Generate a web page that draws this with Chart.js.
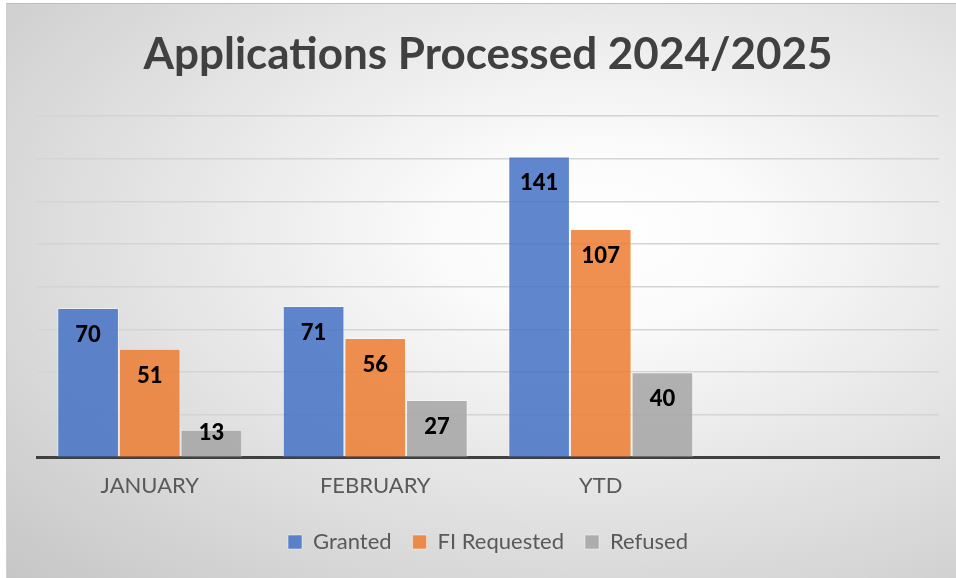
<!DOCTYPE html>
<html>
<head>
<meta charset="utf-8">
<script src="https://cdn.jsdelivr.net/npm/chart.js@4"></script>
<style>
	html, body { margin: 0; padding: 0; background: #ffffff; }
	#frame {
		position: absolute;
		left: 6px;
		top: 3px;
		width: 950px;
		height: 575px;
		border-top: 1px solid #bdbdbd;
		border-left: 1px solid #cfcfcf;
		background: radial-gradient(ellipse farthest-corner at 62% 40%, #ffffff 0%, #fbfbfb 18%, #c6c6c6 100%);
	}
	#chart { display: block; }
</style>
</head>
<body>
<div id="frame"><canvas id="chart" width="950" height="575"></canvas></div>
<script>
// -------------------- data -------------------- //
const categories = ['JANUARY', 'FEBRUARY', 'YTD', ''];
const granted = [70, 71, 141, null];
const fiRequested = [51, 56, 107, null];
const refused = [13, 27, 40, null];
const yTicks = [0, 20, 40, 60, 80, 100, 120, 140, 160];

const FONT = 'Lato, "Open Sans", sans-serif';

// value labels sit inside the bar end, like Excel's "inside end"
const insideEndLabels = {
	id: 'insideEndLabels',
	afterDatasetsDraw(chart) {
		const ctx = chart.ctx;
		ctx.save();
		ctx.font = `900 22px ${FONT}`;
		ctx.fillStyle = '#000000';
		ctx.textAlign = 'center';
		ctx.textBaseline = 'middle';
		chart.data.datasets.forEach((ds, i) => {
			const meta = chart.getDatasetMeta(i);
			meta.data.forEach((bar, j) => {
				const v = ds.data[j];
				if (v == null) return;
				const y = Math.min(bar.y + 27, bar.base - 24);
				ctx.fillText(String(v), bar.x, y);
			});
		});
		ctx.restore();
	},
};

const ctx = /** @type {HTMLCanvasElement} */ (document.getElementById('chart'));
new Chart(ctx, {
	type: 'bar',
	data: {
		labels: categories,
		datasets: [
			{
				label: 'Granted',
				data: granted,
				backgroundColor: 'rgba(68, 114, 196, 0.85)',
				borderColor: 'rgba(255, 255, 255, 0.45)',
				borderWidth: 1,
			},
			{
				label: 'FI Requested',
				data: fiRequested,
				backgroundColor: 'rgba(237, 125, 49, 0.85)',
				borderColor: 'rgba(255, 255, 255, 0.45)',
				borderWidth: 1,
			},
			{
				label: 'Refused',
				data: refused,
				backgroundColor: 'rgba(165, 165, 165, 0.85)',
				borderColor: 'rgba(255, 255, 255, 0.45)',
				borderWidth: 1,
			},
		],
	},
	options: {
		responsive: false,
		devicePixelRatio: 1,
		animation: false,
		categoryPercentage: 0.82,
		barPercentage: 1,
		layout: {
			padding: { left: 30, right: 18, top: 0, bottom: 16 },
		},
		scales: {
			x: {
				grid: { display: false, drawTicks: false },
				border: { display: true, color: '#404040', width: 3 },
				ticks: {
					color: '#595959',
					font: { family: FONT, size: 22 },
					padding: 15,
				},
				// keep the labels where they are but let the legend sit closer
				afterFit: (scale) => {
					scale.height -= 4;
				},
			},
			y: {
				min: 0,
				max: 160,
				afterBuildTicks: (axis) => {
					axis.ticks = yTicks.map((v) => ({ value: v }));
				},
				grid: {
					color: '#d4d4d4',
					lineWidth: 1.5,
					drawTicks: false,
				},
				border: { display: false },
				ticks: { display: false },
			},
		},
		plugins: {
			title: {
				display: true,
				text: 'Applications Processed 2024/2025',
				color: '#404040',
				font: { family: FONT, size: 44, weight: 'bold' },
				padding: { top: 24, bottom: 35 },
			},
			legend: {
				position: 'bottom',
				labels: {
					color: '#595959',
					font: { family: FONT, size: 22 },
					boxWidth: 14,
					boxHeight: 14,
					padding: 21,
				},
			},
			tooltip: { enabled: false },
		},
	},
	plugins: [insideEndLabels],
});
</script>
</body>
</html>
